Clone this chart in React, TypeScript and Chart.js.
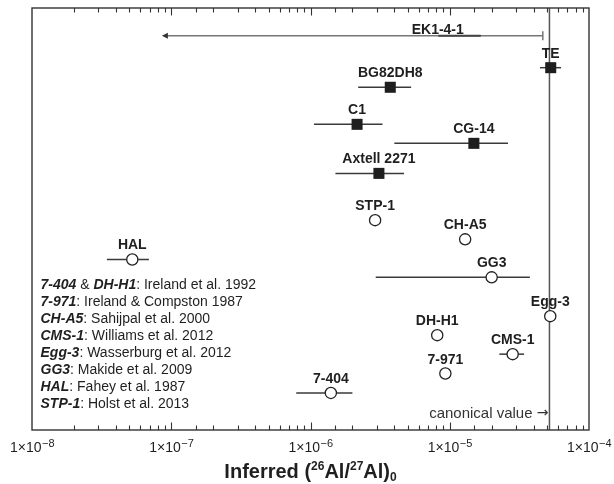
import React, { useEffect, useRef } from "react";
import { Chart, registerables } from "chart.js";

Chart.register(...registerables);

const FONT = '"Liberation Sans", Arial, Helvetica, sans-serif';

// Filled squares (FUN-type / hibonite inclusions)
const squareNames = ["TE", "BG82DH8", "C1", "CG-14", "Axtell 2271"];
const squareRows = [3.14, 4.17, 6.12, 7.12, 8.7];
const squareValues = [5.31e-5, 3.74e-6, 2.16e-6, 1.49e-5, 3.1e-6];
const squareLow = [4.45e-5, 2.2e-6, 1.06e-6, 4.0e-6, 1.51e-6];
const squareHigh = [6.3e-5, 5.28e-6, 3.29e-6, 2.62e-5, 4.7e-6];

// Open circles
const circleNames = ["STP-1", "CH-A5", "HAL", "GG3", "Egg-3", "DH-H1", "CMS-1", "7-971", "7-404"];
const circleRows = [11.16, 12.17, 13.23, 14.17, 16.21, 17.21, 18.21, 19.23, 20.25];
const circleValues = [2.91e-6, 1.29e-5, 5.25e-8, 2.0e-5, 5.27e-5, 8.13e-6, 2.83e-5, 9.3e-6, 1.4e-6];
const circleLow = [null, null, 3.45e-8, 2.94e-6, null, null, 2.27e-5, null, 7.9e-7];
const circleHigh = [null, null, 6.91e-8, 3.76e-5, null, null, 3.42e-5, null, 2.0e-6];

// Upper limit for EK1-4-1
const limitName = "EK1-4-1";
const limitRow = 1.46;
const limitMax = 4.66e-5;
const limitTail = 8.85e-8;
const limitCoreLow = 8.27e-6;
const limitCoreHigh = 1.67e-5;
const limitLabelAt = 8.2e-6;

const canonicalValue = 5.2e-5;

const decadeTicks = [1e-8, 1e-7, 1e-6, 1e-5, 1e-4];

const references: [string, string][][] = [
  [["7-404", "bi"], [" & ", "n"], ["DH-H1", "bi"], [": Ireland et al. 1992", "n"]],
  [["7-971", "bi"], [": Ireland & Compston 1987", "n"]],
  [["CH-A5", "bi"], [": Sahijpal et al. 2000", "n"]],
  [["CMS-1", "bi"], [": Williams et al. 2012", "n"]],
  [["Egg-3", "bi"], [": Wasserburg et al. 2012", "n"]],
  [["GG3", "bi"], [": Makide et al. 2009", "n"]],
  [["HAL", "bi"], [": Fahey et al. 1987", "n"]],
  [["STP-1", "bi"], [": Holst et al. 2013", "n"]],
];

const isDecade = (v: number) => decadeTicks.some((d) => Math.abs(v / d - 1) < 1e-6);

const INK = "#1f1f1f";

const decorations = {
  id: "decorations",
  beforeDatasetsDraw(chart: any) {
    const { ctx, chartArea: a, scales } = chart;
    const x = scales.x;
    const y = scales.y;
    ctx.save();
    ctx.lineCap = "butt";

    // canonical value line
    const cx = x.getPixelForValue(canonicalValue);
    ctx.strokeStyle = "#555";
    ctx.lineWidth = 1.5;
    ctx.beginPath();
    ctx.moveTo(cx, a.top);
    ctx.lineTo(cx, a.bottom);
    ctx.stroke();

    // EK1-4-1 upper limit arrow
    const ey = y.getPixelForValue(limitRow);
    const x0 = x.getPixelForValue(limitTail);
    const x1 = x.getPixelForValue(limitMax);
    ctx.strokeStyle = "#777";
    ctx.lineWidth = 1.5;
    ctx.beginPath();
    ctx.moveTo(x0, ey);
    ctx.lineTo(x1, ey);
    ctx.moveTo(x1, ey - 4.5);
    ctx.lineTo(x1, ey + 4.5);
    ctx.stroke();
    ctx.strokeStyle = "#444";
    ctx.lineWidth = 1.8;
    ctx.beginPath();
    ctx.moveTo(x.getPixelForValue(limitCoreLow), ey);
    ctx.lineTo(x.getPixelForValue(limitCoreHigh), ey);
    ctx.stroke();
    ctx.fillStyle = "#333";
    ctx.beginPath();
    ctx.moveTo(x0 - 2, ey);
    ctx.lineTo(x0 + 4, ey - 3);
    ctx.lineTo(x0 + 4, ey + 3);
    ctx.closePath();
    ctx.fill();

    // error bars
    ctx.strokeStyle = "#3a3a3a";
    ctx.lineWidth = 1.5;
    const bars = (rows: number[], lo: (number | null)[], hi: (number | null)[]) => {
      rows.forEach((r, i) => {
        const l = lo[i];
        const h = hi[i];
        if (l == null || h == null) return;
        const py = y.getPixelForValue(r);
        ctx.beginPath();
        ctx.moveTo(x.getPixelForValue(l), py);
        ctx.lineTo(x.getPixelForValue(h), py);
        ctx.stroke();
      });
    };
    bars(squareRows, squareLow, squareHigh);
    bars(circleRows, circleLow, circleHigh);
    ctx.restore();
  },
  afterDraw(chart: any) {
    const { ctx, chartArea: a, scales } = chart;
    const x = scales.x;
    const y = scales.y;
    ctx.save();

    // frame
    ctx.strokeStyle = "#333";
    ctx.lineWidth = 1.4;
    ctx.strokeRect(a.left, a.top, a.right - a.left, a.bottom - a.top);

    // inward ticks on top and bottom
    ctx.lineWidth = 1.1;
    ctx.beginPath();
    x.ticks.forEach((t: any) => {
      const px = Math.round(x.getPixelForValue(t.value)) + 0.5;
      if (px <= a.left + 1 || px >= a.right - 1) return;
      const len = isDecade(t.value) ? 7.5 : 4.5;
      ctx.moveTo(px, a.bottom);
      ctx.lineTo(px, a.bottom - len);
      ctx.moveTo(px, a.top);
      ctx.lineTo(px, a.top + len);
    });
    ctx.stroke();

    // decade tick labels: 1×10 with superscript exponent
    ctx.fillStyle = INK;
    ctx.textBaseline = "alphabetic";
    ctx.textAlign = "left";
    x.ticks.forEach((t: any) => {
      if (!isDecade(t.value)) return;
      const main = "1\u00D710";
      const exp = "\u2212" + String(Math.abs(Math.round(Math.log10(t.value))));
      ctx.font = `14px ${FONT}`;
      const w1 = ctx.measureText(main).width;
      ctx.font = `11px ${FONT}`;
      const w2 = ctx.measureText(exp).width;
      const left = x.getPixelForValue(t.value) - (w1 + w2) / 2;
      ctx.font = `14px ${FONT}`;
      ctx.fillText(main, left, a.bottom + 22);
      ctx.font = `11px ${FONT}`;
      ctx.fillText(exp, left + w1 + 0.5, a.bottom + 17);
    });

    // point labels
    ctx.fillStyle = INK;
    ctx.font = `bold 14px ${FONT}`;
    ctx.textAlign = "center";
    ctx.textBaseline = "alphabetic";
    const labels = (names: string[], rows: number[], vals: number[]) => {
      names.forEach((n, i) => {
        ctx.fillText(n, x.getPixelForValue(vals[i]), y.getPixelForValue(rows[i]) - 10);
      });
    };
    labels(squareNames, squareRows, squareValues);
    labels(circleNames, circleRows, circleValues);
    ctx.fillText(limitName, x.getPixelForValue(limitLabelAt), y.getPixelForValue(limitRow) - 1.5);

    // canonical value note with arrow pointing at the line
    const cx = x.getPixelForValue(canonicalValue);
    ctx.fillStyle = "#333";
    ctx.textAlign = "right";
    ctx.font = `14px "DejaVu Sans", sans-serif`;
    const arrow = "\u2192";
    const aw = ctx.measureText(arrow).width;
    ctx.fillText(arrow, cx - 1, a.bottom - 13);
    ctx.font = `15px ${FONT}`;
    ctx.fillText("canonical value ", cx - 1 - aw, a.bottom - 12);

    // reference list
    ctx.textAlign = "left";
    ctx.fillStyle = INK;
    references.forEach((line, i) => {
      let px = a.left + 8.5;
      const py = 288.5 + i * 17.1;
      line.forEach(([txt, style]) => {
        ctx.font = style === "bi" ? `italic bold 14px ${FONT}` : `14px ${FONT}`;
        ctx.fillText(txt, px, py);
        px += ctx.measureText(txt).width;
      });
    });

    // axis title with super/subscripts
    const parts: [string, "n" | "sup" | "sub"][] = [
      ["Inferred (", "n"], ["26", "sup"], ["Al/", "n"], ["27", "sup"], ["Al)", "n"], ["0", "sub"],
    ];
    const fontFor = (k: string) => (k === "n" ? `bold 20px ${FONT}` : `bold 12px ${FONT}`);
    let total = 0;
    parts.forEach(([t, k]) => {
      ctx.font = fontFor(k);
      total += ctx.measureText(t).width;
    });
    let tx = (a.left + a.right) / 2 - total / 2;
    const base = 478;
    parts.forEach(([t, k]) => {
      ctx.font = fontFor(k);
      const dy = k === "sup" ? -8 : k === "sub" ? 3 : 0;
      ctx.fillText(t, tx, base + dy);
      tx += ctx.measureText(t).width;
    });
    ctx.restore();
  },
};

export default function App() {
  const ref = useRef<HTMLCanvasElement | null>(null);

  useEffect(() => {
    if (!ref.current) return;
    const chart = new Chart(ref.current, {
      type: "scatter",
      data: {
        datasets: [
          {
            data: squareValues.map((v, i) => ({ x: v, y: squareRows[i] })),
            pointStyle: "rect",
            pointRadius: 7.8,
            backgroundColor: "#1e1e1e",
            borderColor: "#1e1e1e",
            borderWidth: 0,
          },
          {
            data: circleValues.map((v, i) => ({ x: v, y: circleRows[i] })),
            pointStyle: "circle",
            pointRadius: 5.6,
            backgroundColor: "#ffffff",
            borderColor: "#222",
            borderWidth: 1.3,
          },
        ],
      },
      options: {
        responsive: false,
        animation: false,
        clip: false as any,
        layout: { padding: { left: 32, right: 25, top: 8, bottom: 54 } },
        plugins: { legend: { display: false }, tooltip: { enabled: false }, title: { display: false } },
        scales: {
          x: {
            type: "logarithmic",
            min: 1e-8,
            max: 1e-4,
            grid: { display: false, drawTicks: false },
            border: { display: false },
            ticks: { display: false, autoSkip: false },
          },
          y: { type: "linear", min: 0, max: 22.2, reverse: true, display: false },
        },
      },
      plugins: [decorations],
    });
    return () => chart.destroy();
  }, []);

  return (
    <div style={{ position: "absolute", left: 0, top: 0, width: 614, height: 484, background: "#fff" }}>
      <canvas ref={ref} width={614} height={484} />
    </div>
  );
}
